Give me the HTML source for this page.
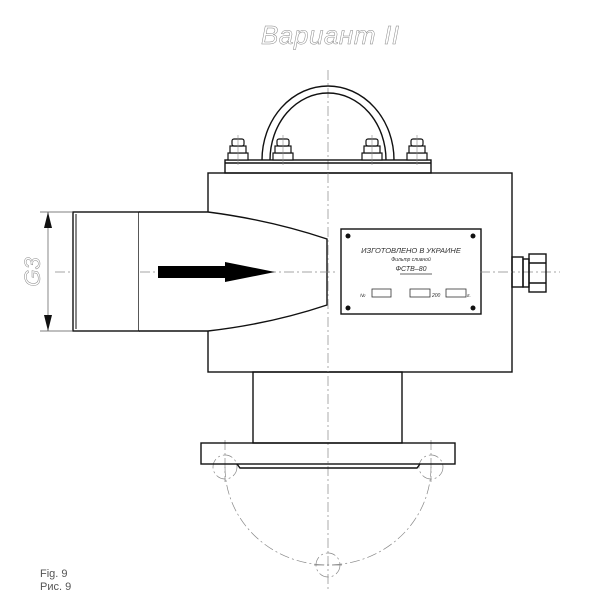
<!DOCTYPE html>
<html><head><meta charset="utf-8"><style>body{margin:0;background:#fff}svg{display:block}</style></head><body>
<svg width="600" height="600" viewBox="0 0 600 600" xmlns="http://www.w3.org/2000/svg" font-family="Liberation Sans, sans-serif">
<defs>
<g id="b"><rect x="-10" y="153" width="20" height="7"/><rect x="-8" y="146" width="16" height="7"/><rect x="-6" y="139" width="12" height="7" rx="2"/></g>
</defs>
<rect width="600" height="600" fill="#fff"/>
<text x="261" y="44" font-size="26" font-style="italic" fill="#fff" stroke="#888" stroke-width="0.5" textLength="138">Вариант II</text>
<g stroke="#888" stroke-width="0.7" stroke-dasharray="10,3,2,3" fill="none">
<line x1="328" y1="70" x2="328" y2="590"/>
<line x1="55" y1="272" x2="560" y2="272"/>
<path d="M225 467 A103 98 0 0 0 431 467"/>
<circle cx="225" cy="467" r="12"/><circle cx="431" cy="467" r="12"/><circle cx="328" cy="565" r="12"/>
<line x1="225" y1="440" x2="225" y2="482"/><line x1="431" y1="440" x2="431" y2="482"/>
<line x1="314" y1="565" x2="342" y2="565"/>
</g>
<g stroke="#111" stroke-width="1.4" fill="none">
<rect x="208" y="173" width="304" height="199" fill="#fff"/>
<rect x="225" y="160" width="206" height="13"/>
<line x1="225" y1="163" x2="431" y2="163"/>
<path d="M262 160 A66 74 0 0 1 394 160"/>
<path d="M270 160 A58 67 0 0 1 386 160"/>
<rect x="253" y="372" width="149" height="71"/>
<rect x="201" y="443" width="254" height="21"/>
<path d="M237 464 L240 468 L417 468 L420 464"/>
<rect x="73" y="212" width="66" height="119" fill="#fff"/>
<line x1="76" y1="214" x2="76" y2="329" stroke-width="1"/>
<path d="M139 212 L208 212 Q270 220 327 239 L327 305 Q270 324 208 331 L139 331" fill="#fff"/>
<rect x="341" y="229" width="140" height="85" fill="#fff"/>
<rect x="512" y="257" width="11" height="30"/>
<rect x="523" y="259" width="6" height="28"/>
<rect x="529" y="254" width="17" height="38"/>
<line x1="529" y1="263" x2="546" y2="263"/><line x1="529" y1="283" x2="546" y2="283"/>
</g>
<g stroke="#888" stroke-width="0.7" stroke-dasharray="10,3,2,3"><line x1="140" y1="272" x2="335" y2="272"/><line x1="328" y1="173" x2="328" y2="372"/><line x1="480" y1="272" x2="512" y2="272"/></g>
<g stroke="#111" stroke-width="1.2" fill="#fff">
<use href="#b" x="238"/><use href="#b" x="283"/><use href="#b" x="372"/><use href="#b" x="417"/>
</g>
<g stroke="#888" stroke-width="0.6"><line x1="238" y1="135" x2="238" y2="165"/><line x1="283" y1="135" x2="283" y2="165"/><line x1="372" y1="135" x2="372" y2="165"/><line x1="417" y1="135" x2="417" y2="165"/></g>
<rect x="158" y="266" width="70" height="12" fill="#000"/>
<polygon points="225,262 275,272 225,282" fill="#000"/>
<g stroke="#555" stroke-width="0.7"><line x1="40" y1="212" x2="73" y2="212"/><line x1="40" y1="331" x2="73" y2="331"/><line x1="48" y1="212" x2="48" y2="331"/></g>
<polygon points="48,212 44,228 52,228" fill="#111"/><polygon points="48,331 44,315 52,315" fill="#111"/>
<text transform="translate(40,272) rotate(-90)" text-anchor="middle" font-size="22" font-style="italic" fill="#fff" stroke="#888" stroke-width="0.5">G3</text>
<g fill="#111"><circle cx="348" cy="236" r="2.5"/><circle cx="473" cy="236" r="2.5"/><circle cx="348" cy="308" r="2.5"/><circle cx="473" cy="308" r="2.5"/></g>
<g font-style="italic" fill="#333" text-anchor="middle">
<text x="411" y="253" font-size="7.5">ИЗГОТОВЛЕНО В УКРАИНЕ</text>
<text x="411" y="261" font-size="5">Фильтр сливной</text>
<text x="411" y="271" font-size="7">ФСТВ–80</text>
</g>
<g fill="none" stroke="#333" stroke-width="0.8"><rect x="372" y="289" width="19" height="8"/><rect x="410" y="289" width="20" height="8"/><rect x="446" y="289" width="20" height="8"/><line x1="400" y1="274" x2="432" y2="274"/></g>
<g font-size="5" font-style="italic" fill="#333"><text x="360" y="297">№</text><text x="432" y="297">200</text><text x="467" y="297">г.</text></g>
<g font-size="11" fill="#555"><text x="40" y="577">Fig. 9</text><text x="40" y="590">Рис. 9</text></g>
</svg>
</body></html>
